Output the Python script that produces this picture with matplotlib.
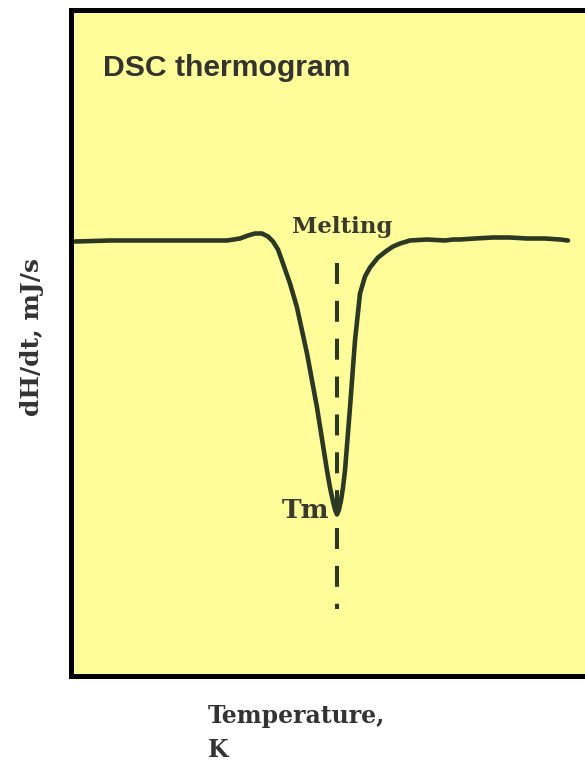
import matplotlib.pyplot as plt

# DSC curve (arbitrary units)
temperature = [75, 110, 150, 190, 210, 227, 240, 248, 255, 262, 268, 273, 278,
               283, 290, 297, 307, 317, 327, 330, 333, 335, 337, 339, 341,
               343, 345, 350, 355, 360, 365, 370, 378, 387, 393, 400, 410,
               427, 445, 453, 460, 475, 493, 510, 527, 545, 560, 568]
heat_flow = [434, 435, 435, 435, 435, 435, 437, 440, 442, 442, 439, 434, 426,
             412, 392, 368, 322, 268, 205, 188, 174, 166, 161, 166, 175,
             188, 205, 268, 335, 382, 399, 408, 418, 425, 429, 432, 435,
             436, 435, 436, 436, 437, 438, 438, 437, 437, 436, 435]
tm = 337
tm_line = [67, 413]

curve_col = '#2a3824'
text_col = '#3a3a2c'
serif = ['DejaVu Serif']

fig = plt.figure(figsize=(5.85, 7.64), dpi=100)
ax = fig.add_axes([71 / 585, 88.5 / 764, (600 - 71) / 585, 666 / 764])
ax.set_facecolor('#fffc9a')
ax.set_xlim(71, 600)
ax.set_ylim(0, 666)
ax.set_xticks([])
ax.set_yticks([])
for s in ax.spines.values():
    s.set_linewidth(3.6)
    s.set_color('black')

ax.plot(temperature, heat_flow, color=curve_col, lw=3.3,
        solid_capstyle='round', solid_joinstyle='round')
ax.plot([tm, tm], [tm_line[1], tm_line[0]], color=curve_col, lw=2.9,
        linestyle=(0, (5.2, 4.2)))

ax.text(103, 599, 'DSC thermogram', family='Liberation Sans', weight='bold',
        fontsize=21.7, color='#333330', va='baseline')
ax.text(342, 442, 'Melting', family=serif, weight='bold', fontsize=16.5,
        color=text_col, ha='center', va='baseline')
ax.text(329, 158, 'Tm', family=serif, weight='bold', fontsize=19,
        color=text_col, ha='right', va='baseline')

fig.text(32 / 585, 1 - 337 / 764, 'dH/dt, mJ/s', family=serif, weight='bold',
         fontsize=18, color='#333333', rotation=90, ha='center', va='center')
fig.text(208 / 585, 1 - 704 / 764, 'Temperature,\nK', family=serif,
         weight='bold', fontsize=17, color='#333333', ha='left', va='top',
         linespacing=1.55)

fig.savefig('out.png', dpi=100)
